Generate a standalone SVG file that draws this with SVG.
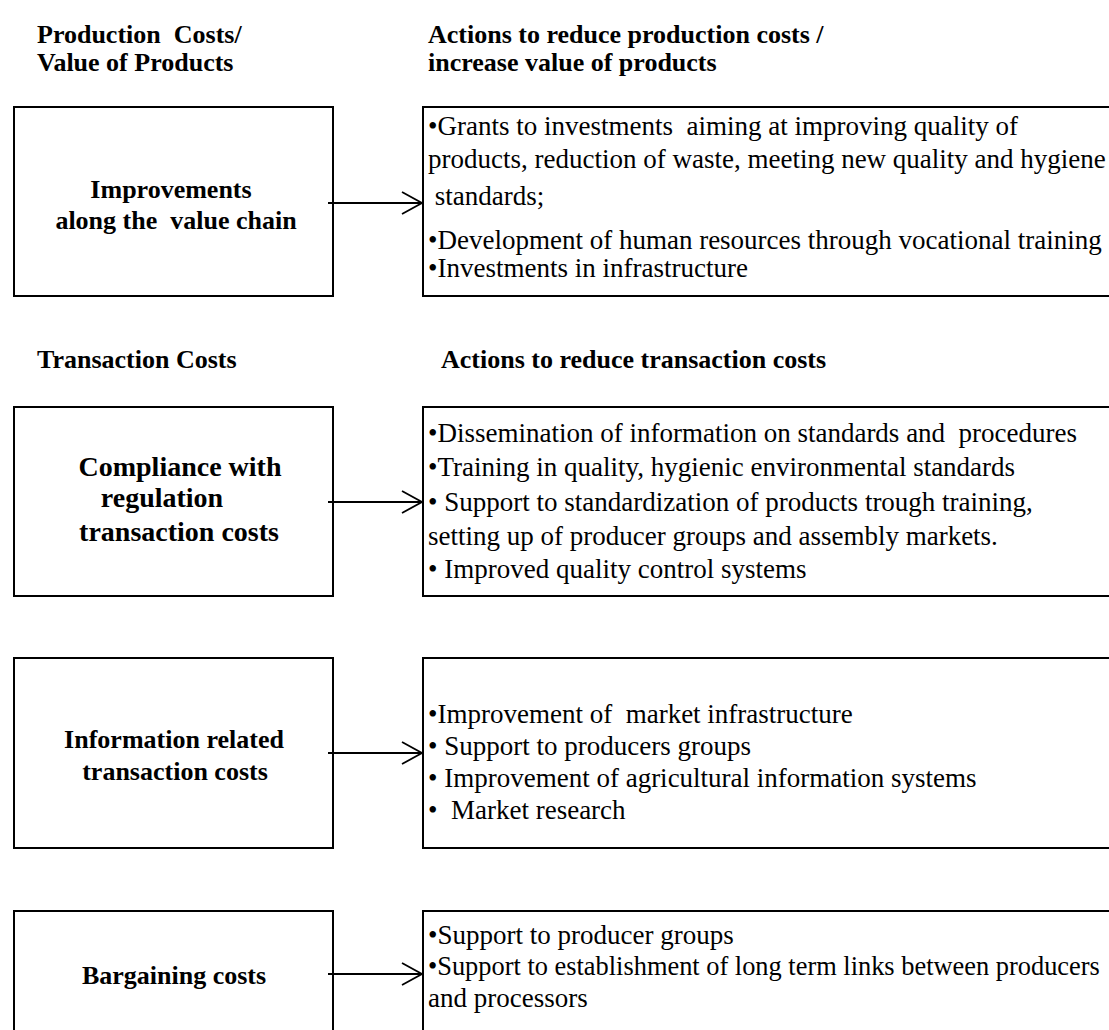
<svg xmlns="http://www.w3.org/2000/svg" width="1109" height="1030" viewBox="0 0 1109 1030">
<style>
text{font-family:"Liberation Serif","Times New Roman",serif;font-size:27px;fill:#000;white-space:pre}
.b{font-weight:bold;font-size:26px}
.b2{font-size:28px}
.c{text-anchor:middle}
rect{fill:#fff;stroke:#000;stroke-width:2}
.con line,.con polyline{fill:none;stroke:#000;stroke-width:1.8}
</style>
<rect x="0" y="0" width="1109" height="1030" style="stroke:none"/>
<g id="headers">
<text class="b" x="37" y="43">Production  Costs/</text>
<text class="b" x="37" y="71">Value of Products</text>
<text class="b" x="428" y="43">Actions to reduce production costs /</text>
<text class="b" x="428" y="71">increase value of products</text>
<text class="b" x="37" y="368">Transaction Costs</text>
<text class="b" x="441" y="368">Actions to reduce transaction costs</text>
</g>
<g id="n1">
<rect x="14" y="107" width="319" height="189"/>
<text class="b c" x="171" y="198">Improvements</text>
<text class="b c" x="176" y="229">along the  value chain</text>
</g>
<g id="a1">
<rect x="423" y="107" width="690" height="189"/>
<text x="428" y="135">•Grants to investments  aiming at improving quality of</text>
<text x="428" y="168">products, reduction of waste, meeting new quality and hygiene</text>
<text x="428" y="205"> standards;</text>
<text x="428" y="249">•Development of human resources through vocational training</text>
<text x="428" y="277">•Investments in infrastructure</text>
</g>
<g id="n2">
<rect x="14" y="407" width="319" height="189"/>
<text class="b b2 c" x="180" y="476">Compliance with</text>
<text class="b b2 c" x="162" y="507">regulation</text>
<text class="b b2 c" x="179" y="541">transaction costs</text>
</g>
<g id="a2">
<rect x="423" y="407" width="690" height="189"/>
<text x="428" y="442">•Dissemination of information on standards and  procedures</text>
<text x="428" y="476">•Training in quality, hygienic environmental standards</text>
<text x="428" y="511">• Support to standardization of products trough training,</text>
<text x="428" y="545">setting up of producer groups and assembly markets.</text>
<text x="428" y="578">• Improved quality control systems</text>
</g>
<g id="n3">
<rect x="14" y="658" width="319" height="190"/>
<text class="b c" x="174" y="748">Information related</text>
<text class="b c" x="175" y="780">transaction costs</text>
</g>
<g id="a3">
<rect x="423" y="658" width="690" height="190"/>
<text x="428" y="723">•Improvement of  market infrastructure</text>
<text x="428" y="755">• Support to producers groups</text>
<text x="428" y="787">• Improvement of agricultural information systems</text>
<text x="428" y="819">•  Market research</text>
</g>
<g id="n4">
<rect x="14" y="911" width="319" height="130"/>
<text class="b c" x="174" y="984">Bargaining costs</text>
</g>
<g id="a4">
<rect x="423" y="911" width="690" height="130"/>
<text x="428" y="944">•Support to producer groups</text>
<text x="428" y="975" style="font-size:26.4px">•Support to establishment of long term links between producers</text>
<text x="428" y="1007">and processors</text>
</g>
<g id="connectors" class="con">
<line x1="328" y1="203" x2="422" y2="203"/><polyline points="402,192 422,203 402,214"/>
<line x1="328" y1="502" x2="422" y2="502"/><polyline points="402,491 422,502 402,513"/>
<line x1="328" y1="753" x2="422" y2="753"/><polyline points="402,742 422,753 402,764"/>
<line x1="328" y1="974" x2="422" y2="974"/><polyline points="402,963 422,974 402,985"/>
</g>
</svg>
